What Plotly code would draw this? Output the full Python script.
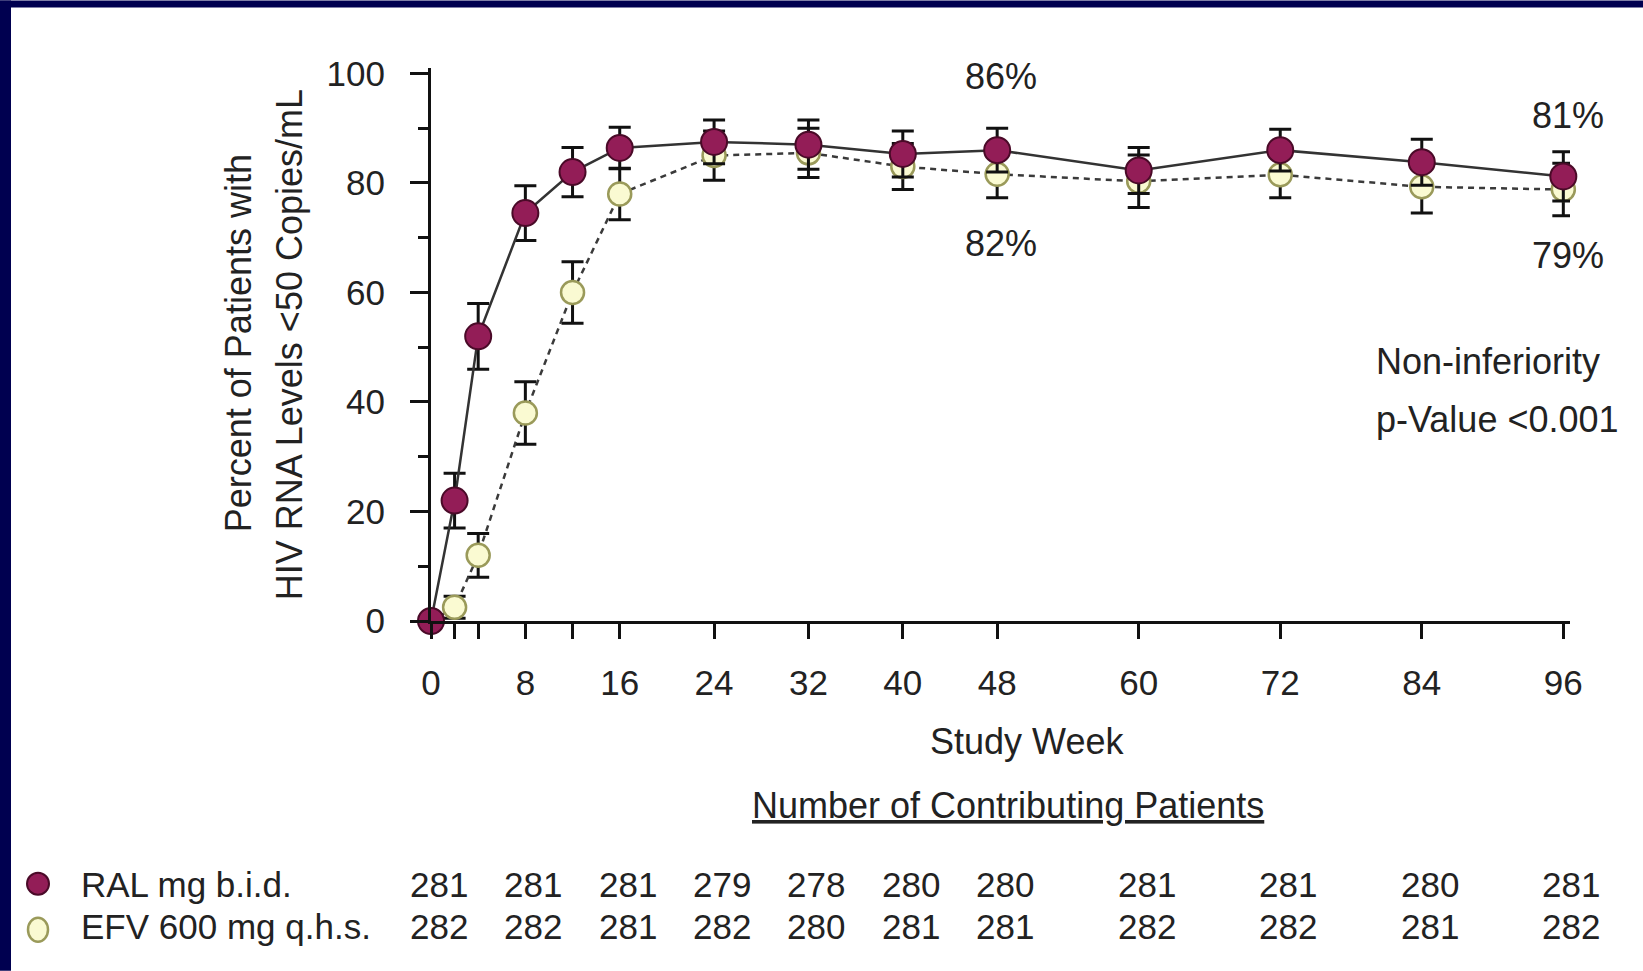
import plotly.graph_objects as go

# ---------------- data ----------------
weeks = [0, 2, 4, 8, 12, 16, 24, 32, 40, 48, 60, 72, 84, 96]
ral = [0, 22, 52, 74.5, 82, 86.4, 87.5, 87, 85.3, 86, 82.3, 86, 83.8, 81.2]
ral_err = [0, 5, 6, 5, 4.5, 3.8, 4, 4.5, 4.2, 4, 4.2, 3.8, 4.2, 4.5]
efv = [0, 2.5, 12, 38, 60, 78, 85, 85.5, 83, 81.6, 80.3, 81.5, 79.3, 78.8]
efv_err = [0, 2, 4, 5.7, 5.6, 4.7, 4.5, 4.5, 4.2, 4.3, 4.8, 4.2, 4.8, 4.8]

x_tick_vals = [0, 8, 16, 24, 32, 40, 48, 60, 72, 84, 96]
x_minor_vals = [2, 4, 12]
y_tick_vals = [0, 20, 40, 60, 80, 100]

table_weeks = [0, 8, 16, 24, 32, 40, 48, 60, 72, 84, 96]
ral_n = [281, 281, 281, 279, 278, 280, 280, 281, 281, 280, 281]
efv_n = [282, 282, 281, 282, 280, 281, 281, 282, 282, 281, 282]

ral_label = "RAL mg b.i.d."
efv_label = "EFV 600 mg q.h.s."

# ---------------- layout constants ----------------
W_FIG, H_FIG = 1643, 971
ML, MR, MT, MB = 431, 73, 67.5, 350
PW = W_FIG - ML - MR
PH = H_FIG - MT - MB
FONT = "Liberation Sans, Arial, sans-serif"
TXT = "#222222"
NAVY = "#000050"
RAL_FILL = "#931D57"
RAL_EDGE = "#4A0A28"
EFV_FILL = "#FAFAD2"
EFV_EDGE = "#9A9A5A"


def px(x):
    return (x - ML) / PW


def py(y):
    return (H_FIG - MB - y) / PH


fig = go.Figure()

fig.add_trace(go.Scatter(
    x=weeks, y=efv, mode="lines+markers", name=efv_label,
    line=dict(color="#3a3a3a", width=2.5, dash="6px,5px"),
    marker=dict(symbol="circle", size=23, color=EFV_FILL,
                line=dict(color=EFV_EDGE, width=2.5)),
    error_y=dict(type="data", array=efv_err, color="#111111", thickness=3, width=11),
    cliponaxis=False, showlegend=False,
))
fig.add_trace(go.Scatter(
    x=weeks, y=ral, mode="lines+markers", name=ral_label,
    line=dict(color="#333333", width=2.5),
    marker=dict(symbol="circle", size=26, color=RAL_FILL,
                line=dict(color=RAL_EDGE, width=2)),
    error_y=dict(type="data", array=ral_err, color="#111111", thickness=3, width=11),
    cliponaxis=False, showlegend=False,
))

annotations = []


def add_text(text, x, y, size=36, xanchor="center", yanchor="middle", angle=0, **font_extra):
    annotations.append(dict(
        text=text, x=px(x), y=py(y), xref="paper", yref="paper",
        xanchor=xanchor, yanchor=yanchor, showarrow=False, textangle=angle,
        font=dict(family=FONT, size=size, color=TXT, **font_extra),
    ))


# y-axis title (two lines)
add_text("Percent of Patients with", 238, 343, size=36, angle=-90)
add_text("HIV RNA Levels &lt;50 Copies/mL", 289, 345, size=36, angle=-90)

# x-axis title + table header
add_text("Study Week", 1027, 742, size=36)
add_text("Number of Contributing Patients", 1008, 806, size=36, lineposition="under")

# in-plot labels
add_text("86%", 1001, 76, size=36)
add_text("82%", 1001, 243, size=36)
add_text("81%", 1568, 115, size=36)
add_text("79%", 1568, 255, size=36)
add_text("Non-inferiority", 1374, 361, size=36, xanchor="left")
add_text("p-Value &lt;0.001", 1374, 419, size=36, xanchor="left")

# table row labels
ROW_RAL, ROW_EFV = 885, 927
add_text(ral_label, 79, ROW_RAL, size=35, xanchor="left")
add_text(efv_label, 79, ROW_EFV, size=35, xanchor="left")

# table numbers, aligned with the x axis weeks
for wk, a, b in zip(table_weeks, ral_n, efv_n):
    for val, row in ((a, ROW_RAL), (b, ROW_EFV)):
        annotations.append(dict(
            text=str(val), x=wk, y=py(row), xref="x", yref="paper",
            xshift=8, xanchor="center", yanchor="middle", showarrow=False,
            font=dict(family=FONT, size=35, color=TXT),
        ))

shapes = [
    # navy frame strips (left and top)
    dict(type="rect", xref="paper", yref="paper", x0=px(0), x1=px(11), y0=py(H_FIG), y1=py(0),
         fillcolor=NAVY, line=dict(width=0), layer="above"),
    dict(type="rect", xref="paper", yref="paper", x0=px(0), x1=px(W_FIG), y0=py(7), y1=py(0),
         fillcolor=NAVY, line=dict(width=0), layer="above"),
    # table legend symbols
    dict(type="circle", xref="paper", yref="paper",
         x0=px(38 - 11), x1=px(38 + 11), y0=py(884 + 11), y1=py(884 - 11),
         fillcolor=RAL_FILL, line=dict(color=RAL_EDGE, width=2)),
    dict(type="circle", xref="paper", yref="paper",
         x0=px(38 - 10), x1=px(38 + 10), y0=py(930 + 12), y1=py(930 - 12),
         fillcolor=EFV_FILL, line=dict(color=EFV_EDGE, width=2.5)),
]

fig.update_layout(
    width=W_FIG, height=H_FIG,
    margin=dict(l=ML, r=MR, t=MT, b=MB, autoexpand=False),
    paper_bgcolor="white", plot_bgcolor="white",
    showlegend=False,
    annotations=annotations,
    shapes=shapes,
    xaxis=dict(
        range=[0, PW / 11.795], showgrid=False, zeroline=False,
        showline=True, linecolor="#111111", linewidth=3,
        tickmode="array", tickvals=x_tick_vals, ticktext=[str(v) for v in x_tick_vals],
        ticks="outside", ticklen=15, tickwidth=2.5, tickcolor="#111111",
        ticklabelstandoff=14,
        minor=dict(tickvals=x_minor_vals, ticks="outside", ticklen=15, tickwidth=2.5,
                   tickcolor="#111111", showgrid=False),
        tickfont=dict(family=FONT, size=35, color=TXT),
    ),
    yaxis=dict(
        range=[0, 101], showgrid=False, zeroline=False,
        showline=True, linecolor="#111111", linewidth=3,
        tickmode="array", tickvals=y_tick_vals,
        ticks="outside", ticklen=18, tickwidth=2.5, tickcolor="#111111",
        ticklabelstandoff=18,
        minor=dict(dtick=10, tick0=0, ticks="outside", ticklen=10, tickwidth=2.5,
                   tickcolor="#111111", showgrid=False),
        tickfont=dict(family=FONT, size=35, color=TXT),
    ),
)

fig.write_html(
    "out.html",
    config={"displayModeBar": False},
    post_script="document.body.style.margin='0';document.body.style.overflow='hidden';",
)
